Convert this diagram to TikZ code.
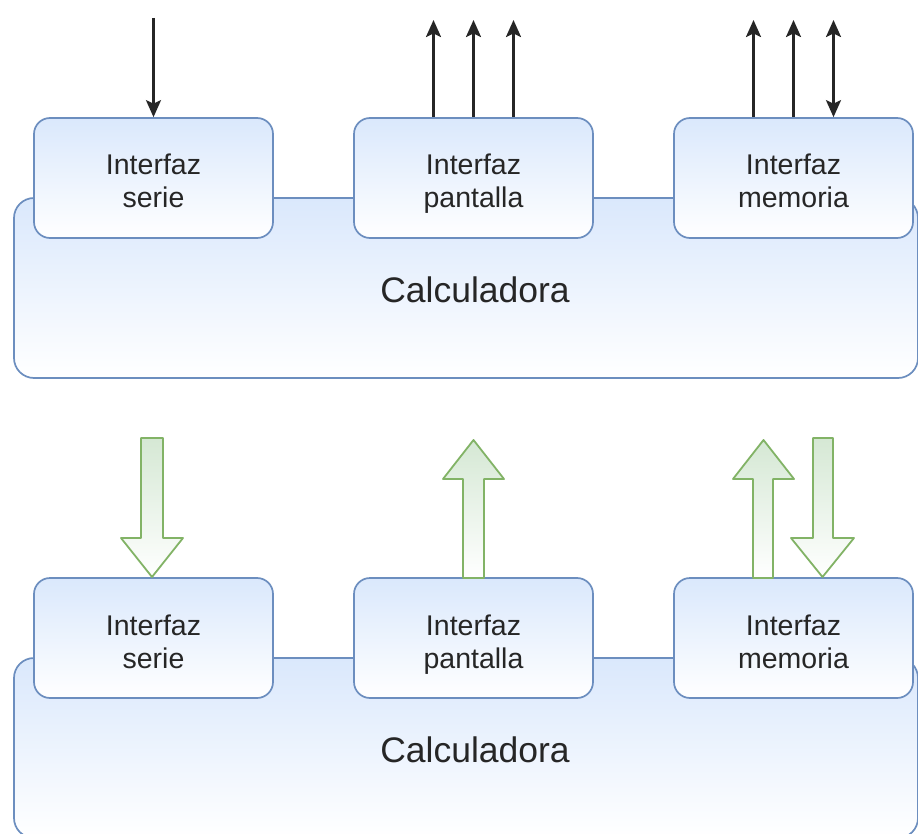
\documentclass[tikz,border=0pt]{standalone}
\usepackage{fontspec}
\setmainfont{Liberation Sans}
\usetikzlibrary{arrows.meta,calc}
\definecolor{boxfill}{HTML}{DAE8FC}
\definecolor{boxline}{HTML}{6C8EBF}
\definecolor{arrfill}{HTML}{D5E8D4}
\definecolor{arrline}{HTML}{82B366}
\definecolor{ink}{HTML}{262626}
% two-line label with fixed line heights, so every box sets its text alike
\newcommand{\twolines}[2]{\rule{0pt}{37pt}#1\\#2\rule[-10pt]{0pt}{0pt}}
\begin{document}
\begin{tikzpicture}[x=1pt,y=-1pt,
  mainbox/.style={draw=boxline, line width=1.7pt, rounded corners=20pt,
    top color=boxfill, bottom color=white, inner sep=0pt},
  ifbox/.style={draw=boxline, line width=1.7pt, rounded corners=16pt,
    top color=boxfill, bottom color=white, inner sep=0pt,
    minimum width=239pt, minimum height=120pt, align=center, text=ink,
    font=\fontsize{28.5}{33}\selectfont},
  biglabel/.style={text=ink, font=\fontsize{35.5}{40}\selectfont},
  tipshape/.tip={Stealth[length=17pt,width=15pt,inset=3.5pt]},
  sig/.style={draw=ink, line width=2.4pt, tipshape-tipshape},
  sigin/.style={draw=ink, line width=2.4pt, -tipshape},
  blockarrow/.style={draw=arrline, line width=1.8pt, line join=round,
    top color=arrfill, bottom color=white}]
\useasboundingbox (0,0) rectangle (918,834);
\fill[white] (0,0) rectangle (918,834);
\clip (0,0) rectangle (918,834);

% ---------- upper block: signal lines ----------
\node[mainbox, minimum width=904pt, minimum height=180pt] (calcA) at (466,288) {};
\node[biglabel] (calcAtxt) at (475,290) {Calculadora};
\node[ifbox] (serA) at (153.5,178) {\twolines{Interfaz}{serie}};
\node[ifbox] (panA) at (473.5,178) {\twolines{Interfaz}{pantalla}};
\node[ifbox] (memA) at (793.5,178) {\twolines{Interfaz}{memoria}};

\coordinate (serAin) at (153.5,18);
\draw[sigin] (serAin) -- (serA.north);

\coordinate (panA1) at (433.5,20);
\coordinate (panA2) at (473.5,20);
\coordinate (panA3) at (513.5,20);
\draw[sigin] ($(panA.north)+(-40,0)$) -- (panA1);
\draw[sigin] (panA.north) -- (panA2);
\draw[sigin] ($(panA.north)+(40,0)$) -- (panA3);

\coordinate (memA1) at (753.5,20);
\coordinate (memA2) at (793.5,20);
\coordinate (memA3) at (833.5,20);
\draw[sigin] ($(memA.north)+(-40,0)$) -- (memA1);
\draw[sigin] (memA.north) -- (memA2);
\draw[sig] ($(memA.north)+(40,0)$) -- (memA3);

% ---------- lower block: data flows ----------
\node[mainbox, minimum width=904pt, minimum height=180pt] (calcB) at (466,748) {};
\node[biglabel] (calcBtxt) at (475,750) {Calculadora};
\node[ifbox] (serB) at (153.5,638) {\twolines{Interfaz}{serie}};
\node[ifbox] (panB) at (473.5,638) {\twolines{Interfaz}{pantalla}};
\node[ifbox] (memB) at (793.5,638) {\twolines{Interfaz}{memoria}};

% flow into the serial interface
\draw[blockarrow] (141,438) -- (163,438) -- (163,538) -- (183,538)
  -- (152,577) -- (121,538) -- (141,538) -- cycle;
% flow out of the display interface
\draw[blockarrow] (463,578) -- (484,578) -- (484,479) -- (504,479)
  -- (473.5,440) -- (443,479) -- (463,479) -- cycle;
% flows out of and into the memory interface
\draw[blockarrow] (753,578) -- (773,578) -- (773,479) -- (794,479)
  -- (763.5,440) -- (733,479) -- (753,479) -- cycle;
\draw[blockarrow] (813,438) -- (833,438) -- (833,538) -- (854,538)
  -- (822.5,577) -- (791,538) -- (813,538) -- cycle;
\end{tikzpicture}
\end{document}
